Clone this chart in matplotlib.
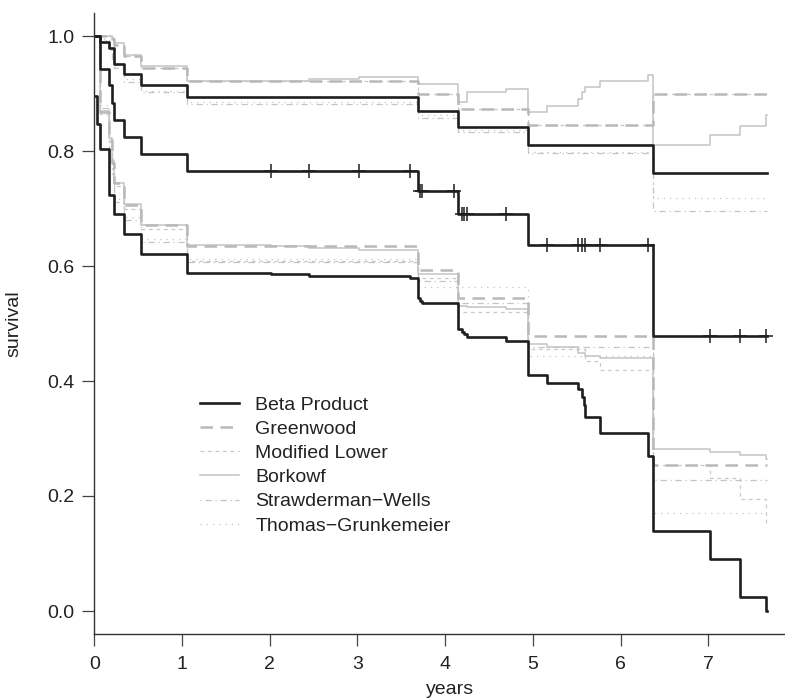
import numpy as np
import matplotlib
matplotlib.use("Agg")
import matplotlib.pyplot as plt

plt.rcParams['font.family'] = ['Liberation Sans', 'DejaVu Sans']

t_end = 7.67

# Kaplan-Meier estimate
km_times = [0, 0.066, 0.168, 0.205, 0.23, 0.34, 0.53, 1.06, 3.69, 4.15, 4.94, 6.37]
km_vals = [1.0, 0.943, 0.914, 0.884, 0.854, 0.824, 0.794, 0.765, 0.730, 0.691, 0.636, 0.478]
censor_times = [2.02, 2.45, 3.02, 3.60, 3.71, 3.74, 4.10, 4.19, 4.22, 4.25, 4.69,
                5.16, 5.52, 5.56, 5.60, 5.77, 6.31, 7.02, 7.36, 7.66]

# Beta product
bp_up_times = [0, 0.066, 0.168, 0.23, 0.34, 0.53, 1.06, 3.69, 4.15, 4.94, 6.37]
bp_up_vals = [1.0, 0.989, 0.98, 0.951, 0.934, 0.914, 0.894, 0.870, 0.841, 0.810, 0.762]
bp_lo_times = [0, 0.027, 0.066, 0.168, 0.23, 0.34, 0.53, 1.06, 2.02, 2.45, 3.02, 3.60,
               3.69, 3.71, 3.74, 4.15, 4.19, 4.22, 4.25, 4.69, 4.94, 5.16, 5.52, 5.56,
               5.58, 5.60, 5.77, 6.31, 6.37, 7.02, 7.36, 7.66]
bp_lo_vals = [0.896, 0.847, 0.804, 0.724, 0.690, 0.656, 0.621, 0.587, 0.586, 0.583, 0.582, 0.580,
              0.544, 0.540, 0.535, 0.490, 0.486, 0.481, 0.476, 0.470, 0.411, 0.397, 0.386, 0.372,
              0.358, 0.338, 0.309, 0.270, 0.139, 0.090, 0.025, 0.0]

# Greenwood
gw_up_times = [0, 0.205, 0.23, 0.34, 0.53, 1.06, 3.69, 4.15, 4.94, 6.37]
gw_up_vals = [1.0, 0.995, 0.985, 0.965, 0.945, 0.921, 0.899, 0.873, 0.845, 0.899]
gw_lo_times = [0, 0.066, 0.168, 0.205, 0.23, 0.34, 0.53, 1.06, 3.69, 4.15, 4.94, 6.37]
gw_lo_vals = [1.0, 0.867, 0.82, 0.78, 0.745, 0.706, 0.671, 0.635, 0.593, 0.545, 0.479, 0.254]

# Modified lower (upper limit is the Greenwood one)
ml_lo_times = [0, 0.066, 0.168, 0.205, 0.23, 0.34, 0.53, 1.06, 3.69, 4.15, 4.94, 5.60,
               5.77, 6.37, 7.02, 7.36, 7.66]
ml_lo_vals = [1.0, 0.865, 0.815, 0.775, 0.74, 0.70, 0.665, 0.608, 0.58, 0.52, 0.455, 0.434,
              0.42, 0.254, 0.231, 0.195, 0.15]

# Borkowf
bk_up_times = [0, 0.205, 0.23, 0.34, 0.53, 1.06, 2.45, 3.02, 3.69, 4.15, 4.25, 4.69, 4.94,
               5.16, 5.52, 5.56, 5.60, 5.77, 6.31, 6.37, 7.02, 7.36, 7.66]
bk_up_vals = [1.0, 0.997, 0.987, 0.967, 0.947, 0.922, 0.925, 0.929, 0.917, 0.886, 0.902, 0.907,
              0.867, 0.879, 0.89, 0.902, 0.911, 0.921, 0.932, 0.81, 0.827, 0.843, 0.863]
bk_lo_times = [0, 0.066, 0.168, 0.205, 0.23, 0.34, 0.53, 1.06, 2.02, 2.45, 3.02, 3.69, 4.15,
               4.25, 4.69, 4.94, 5.16, 5.52, 5.60, 5.77, 6.37, 7.02, 7.36, 7.66]
bk_lo_vals = [1.0, 0.87, 0.822, 0.782, 0.745, 0.708, 0.672, 0.636, 0.634, 0.631, 0.628, 0.586,
              0.53, 0.528, 0.525, 0.464, 0.46, 0.449, 0.443, 0.44, 0.282, 0.277, 0.271, 0.264]

# Strawderman-Wells and Thomas-Grunkemeier share step times
sw_times = [0, 0.066, 0.168, 0.205, 0.23, 0.34, 0.53, 1.06, 3.69, 4.15, 4.94, 6.37]
sw_up_vals = [1.0, 0.993, 0.975, 0.96, 0.945, 0.92, 0.902, 0.882, 0.858, 0.833, 0.796, 0.695]
sw_lo_vals = [1.0, 0.875, 0.80, 0.76, 0.711, 0.68, 0.641, 0.607, 0.574, 0.535, 0.459, 0.227]
tg_up_vals = [1.0, 0.995, 0.98, 0.965, 0.95, 0.925, 0.905, 0.886, 0.862, 0.836, 0.798, 0.718]
tg_lo_vals = [1.0, 0.88, 0.805, 0.765, 0.716, 0.685, 0.647, 0.613, 0.564, 0.564, 0.443, 0.171]

labels = ["Beta Product", "Greenwood", "Modified Lower", "Borkowf",
          "Strawderman\u2212Wells", "Thomas\u2212Grunkemeier"]


def step(ax, times, vals, **kw):
    t = np.append(times, t_end)
    v = np.append(vals, vals[-1])
    return ax.plot(t, v, drawstyle='steps-post', **kw)[0]


fig = plt.figure(figsize=(7.85, 6.99), dpi=100)
ax = fig.add_axes([94.3 / 785, 65 / 699, 711.7 / 785, 621 / 699])

gray = '#c4c4c4'
sty_ml = dict(color='#c8c8c8', lw=0.9, dashes=(3, 3))
sty_bk = dict(color=gray, lw=1.1)
sty_sw = dict(color=gray, lw=0.9, dashes=(1, 3, 5, 3))
sty_tg = dict(color=gray, lw=0.9, dashes=(1, 4))
sty_gw = dict(color='#b9b9b9', lw=1.8, dashes=(5, 3))
sty_bp = dict(color='#1e1e1e', lw=1.9)

h_ml = step(ax, gw_up_times, gw_up_vals, **sty_ml)
step(ax, ml_lo_times, ml_lo_vals, **sty_ml)
h_tg = step(ax, sw_times, tg_up_vals, **sty_tg)
step(ax, sw_times, tg_lo_vals, **sty_tg)
h_sw = step(ax, sw_times, sw_up_vals, **sty_sw)
step(ax, sw_times, sw_lo_vals, **sty_sw)
h_bk = step(ax, bk_up_times, bk_up_vals, **sty_bk)
step(ax, bk_lo_times, bk_lo_vals, **sty_bk)
h_gw = step(ax, gw_up_times, gw_up_vals, **sty_gw)
step(ax, gw_lo_times, gw_lo_vals, **sty_gw)

h_bp = step(ax, bp_up_times, bp_up_vals, **sty_bp)
step(ax, bp_lo_times, bp_lo_vals, **sty_bp)
step(ax, km_times, km_vals, **sty_bp)

# censoring marks on the KM curve
idx = np.searchsorted(km_times, censor_times, side='right') - 1
ax.plot(censor_times, np.array(km_vals)[idx], ls='none', marker='+',
        ms=10, mew=1.1, color='#1e1e1e')

ax.set_xlim(0, 8.115)
ax.set_ylim(-0.04, 1.04)
ax.set_xticks(range(0, 8))
ax.set_yticks([0.0, 0.2, 0.4, 0.6, 0.8, 1.0])
ax.set_yticklabels(['0.0', '0.2', '0.4', '0.6', '0.8', '1.0'])
for s in ['top', 'right']:
    ax.spines[s].set_visible(False)
for s in ['left', 'bottom']:
    ax.spines[s].set_linewidth(1.0)
    ax.spines[s].set_color('#333333')
ax.tick_params(axis='both', length=8.5, width=0.9, color='#444444', labelsize=14,
               labelcolor='#222222')
ax.tick_params(axis='y', pad=5.5)
ax.tick_params(axis='x', pad=7)

fig.text(450 / 785, 1 - 694 / 699, 'years', ha='center', va='baseline', fontsize=14,
         color='#222222')
fig.text(14 / 785, 1 - 324 / 699, 'survival', ha='center', va='center',
         rotation=90, fontsize=14, color='#222222')

leg = ax.legend([h_bp, h_gw, h_ml, h_bk, h_sw, h_tg], labels, frameon=False,
                loc='upper left', bbox_to_anchor=(200 / 785, 1 - 396 / 699),
                bbox_transform=fig.transFigure, borderpad=0, borderaxespad=0,
                handlelength=2.0, handletextpad=0.85, labelspacing=0.34, fontsize=14)
for txt in leg.get_texts():
    txt.set_color('#222222')

fig.savefig('out.png', dpi=100)
